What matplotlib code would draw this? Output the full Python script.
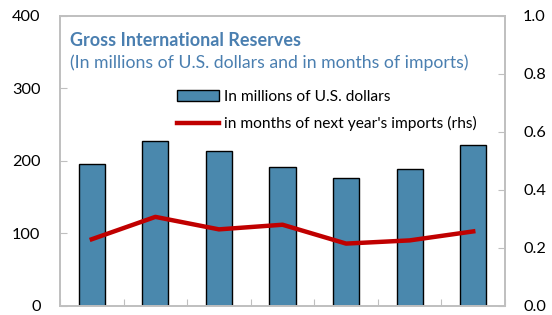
import matplotlib
matplotlib.use("Agg")
import matplotlib.pyplot as plt
from matplotlib.patches import Patch
from matplotlib.lines import Line2D
import numpy as np

plt.rcParams['font.family'] = ['Lato', 'DejaVu Sans']

categories = ["1", "2", "3", "4", "5", "6", "7"]
reserves_usd = [195, 228, 214, 191, 176, 189, 222]
months_imports = [0.23, 0.307, 0.264, 0.28, 0.215, 0.226, 0.257]

fig = plt.figure(figsize=(5.52, 3.15), dpi=100)
ax = fig.add_axes([0.1087, 0.0286, 0.8062, 0.9214])
x = np.arange(len(categories))
ax.bar(x, reserves_usd, width=0.41, color='#4a88ad', edgecolor='black', linewidth=1.0, zorder=2)
ax.set_ylim(0, 400)
ax.set_xlim(-0.5, len(categories) - 0.5)
ax.set_yticks([0, 100, 200, 300, 400])
ax.set_xticks(np.arange(-0.5, len(categories), 1.0))
ax.set_xticklabels([])
ax.tick_params(axis='x', direction='in', length=5, color='#bfbfbf')
ax.tick_params(axis='y', direction='in', length=5, color='#bfbfbf', labelsize=11.7, pad=14)
for s in ax.spines.values():
    s.set_color('#bfbfbf')
    s.set_linewidth(1.2)

ax2 = ax.twinx()
ax2.plot(x, months_imports, color='#c00000', linewidth=3.2, zorder=3)
ax2.set_ylim(0, 1.0)
ax2.set_yticks([0, 0.2, 0.4, 0.6, 0.8, 1.0])
ax2.set_yticklabels(['0.0', '0.2', '0.4', '0.6', '0.8', '1.0'])
ax2.tick_params(axis='y', direction='in', length=5, color='#bfbfbf', labelsize=11.7, pad=13)
for s in ax2.spines.values():
    s.set_color('#bfbfbf')
    s.set_linewidth(1.2)

fig.text(70/552, 1 - 41/315, "Gross International Reserves", color='#4a7fb0',
         fontsize=13, fontweight='bold', va='center', ha='left')
fig.text(70/552, 1 - 63/315, "(In millions of U.S. dollars and in months of imports)",
         color='#4a7fb0', fontsize=12.7, va='center', ha='left')

handles = [Patch(facecolor='#4a88ad', edgecolor='black', linewidth=1.0),
           Line2D([0], [0], color='#c00000', linewidth=3.2)]
labels = ["In millions of U.S. dollars", "in months of next year's imports (rhs)"]
fig.legend(handles, labels, loc='upper left', bbox_to_anchor=(177/552, 1 - 90/315),
           frameon=False, fontsize=11.2, handlelength=2.7, handleheight=0.7,
           labelspacing=0.78, handletextpad=0.3, borderaxespad=0, borderpad=0.0)

fig.savefig("out.png", dpi=100)
